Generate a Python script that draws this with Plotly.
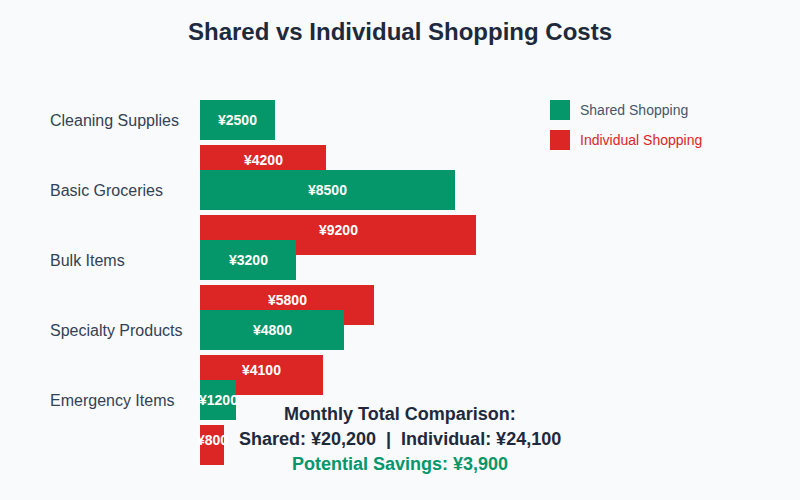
import plotly.graph_objects as go

categories = ['Cleaning Supplies', 'Basic Groceries', 'Bulk Items', 'Specialty Products', 'Emergency Items']
shared = [2500, 8500, 3200, 4800, 1200]
individual = [4200, 9200, 5800, 4100, 800]

GREEN = '#059669'
RED = '#dc2626'
FONT = 'Liberation Sans, Arial, sans-serif'

# pixel helpers (figure is 800x500, plot area starts at x=200, no top/bottom margin)
row = 70.0
def px_y(p):
    return 1 - p / 500.0
def px_x(p):
    return (p - 200) / 600.0

red = go.Bar(y=categories, x=individual, orientation='h',
             marker=dict(color=RED, line=dict(width=0)),
             width=40 / row, offset=25 / row, hoverinfo='skip', name='Individual Shopping')
green = go.Bar(y=categories, x=shared, orientation='h',
               marker=dict(color=GREEN, line=dict(width=0)),
               width=40 / row, offset=-20 / row, hoverinfo='skip', name='Shared Shopping')

fig = go.Figure(data=[red, green])

ann = []
for c, s, i in zip(categories, shared, individual):
    ann.append(dict(x=px_x(50), xref='paper', y=c, yref='y', text=c, showarrow=False, xshift=-2,
                    xanchor='left', yanchor='middle', font=dict(size=16, color='#334155', family=FONT)))
    ann.append(dict(x=s / 2, y=c, text='<b>¥%d</b>' % s, showarrow=False, yanchor='middle',
                    font=dict(size=14, color='white', family=FONT)))
    ann.append(dict(x=i / 2, y=c, yshift=-40, text='<b>¥%d</b>' % i, showarrow=False, yanchor='middle',
                    font=dict(size=14, color='white', family=FONT)))

# legend
shapes = [
    dict(type='rect', xref='paper', yref='paper', x0=px_x(550), x1=px_x(570),
         y0=px_y(120), y1=px_y(100), fillcolor=GREEN, line=dict(width=0)),
    dict(type='rect', xref='paper', yref='paper', x0=px_x(550), x1=px_x(570),
         y0=px_y(150), y1=px_y(130), fillcolor=RED, line=dict(width=0)),
]
ann.append(dict(x=px_x(580), y=px_y(110), xref='paper', yref='paper', text='Shared Shopping',
                showarrow=False, xanchor='left', yanchor='middle', xshift=-2,
                font=dict(size=14, color='#475569', family=FONT)))
ann.append(dict(x=px_x(580), y=px_y(140), xref='paper', yref='paper', text='Individual Shopping',
                showarrow=False, xanchor='left', yanchor='middle', xshift=-2,
                font=dict(size=14, color=RED, family=FONT)))

# totals
tot_s = sum(shared)
tot_i = sum(individual)
lines = [
    ('<b>Monthly Total Comparison:</b>', '#1e293b', 414),
    ('<b>Shared: ¥{:,}  |  Individual: ¥{:,}</b>'.format(tot_s, tot_i), '#1e293b', 439),
    ('<b>Potential Savings: ¥{:,}</b>'.format(tot_i - tot_s), GREEN, 464),
]
for t, col, p in lines:
    ann.append(dict(x=px_x(400), y=px_y(p), xref='paper', yref='paper', text=t, showarrow=False,
                    xanchor='center', yanchor='middle', font=dict(size=18, color=col, family=FONT)))

fig.update_layout(
    width=800, height=500,
    margin=dict(l=200, r=0, t=0, b=0),
    paper_bgcolor='#f8fafc', plot_bgcolor='#f8fafc',
    showlegend=False,
    title=dict(text='<b>Shared vs Individual Shopping Costs</b>', x=0.5, xanchor='center',
               y=px_y(32), yref='container', yanchor='middle',
               font=dict(size=24, color='#1e293b', family=FONT)),
    xaxis=dict(range=[0, 20000], showgrid=False, zeroline=False, showticklabels=False, fixedrange=True),
    yaxis=dict(type='category', range=[(500 - 120) / row, -120 / row], showgrid=False,
               zeroline=False, showticklabels=False, fixedrange=True),
    annotations=ann, shapes=shapes,
)

fig.write_html('out.html', config={'displayModeBar': False},
               post_script="document.body.style.margin='0';document.body.style.overflow='hidden';")
